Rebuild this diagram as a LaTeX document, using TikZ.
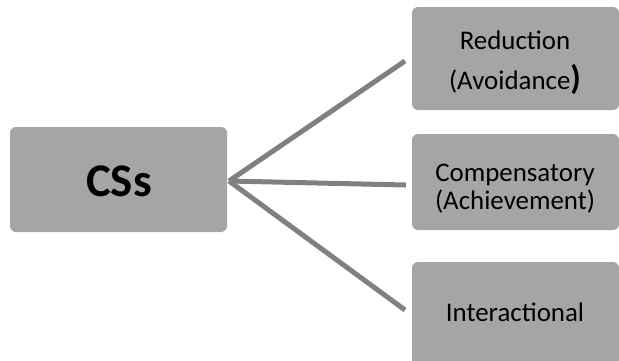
\documentclass[tikz,border=0pt]{standalone}
\usepackage{fontspec}
\setmainfont{Carlito}
\definecolor{boxgray}{HTML}{A5A5A5}
\definecolor{linegray}{HTML}{808080}
\tikzset{
  gbox/.style={fill=boxgray, rounded corners=6bp},
  conn/.style={draw=linegray, line width=5bp},
  lbl/.style={align=center, inner sep=0pt, font=\fontsize{27}{40}\selectfont},
}
\begin{document}
\begin{tikzpicture}[x=1bp,y=-1bp]
\useasboundingbox (0,0) rectangle (619,360);
\begin{scope}
\clip (0,0) rectangle (619,360);
\fill[gbox] (10,127) rectangle (227,232);
\fill[gbox] (412,7) rectangle (619,110);
\fill[gbox] (412,134) rectangle (619,230);
\fill[gbox] (412,262) rectangle (619,372);
\end{scope}
\node[inner sep=0pt, font=\fontsize{47}{50}\selectfont\bfseries] (cs) at (119,181) {CSs};
\node[lbl] (r) at (515,63) {Reduction\\(Avoidance{\fontsize{34}{34}\selectfont\bfseries)}};
\node[lbl, font=\fontsize{27}{28}\selectfont] (c) at (515,189) {Compensatory\\(Achievement)};
\node[lbl] (i) at (515,312) {Interactional};
\coordinate (hub) at (229,181);
\coordinate (e1) at (405,61);
\coordinate (e2) at (406,185);
\coordinate (e3) at (405,310);
\draw[conn] (hub) -- (e1);
\draw[conn] (hub) -- (e2);
\draw[conn] (hub) -- (e3);
\end{tikzpicture}
\end{document}
